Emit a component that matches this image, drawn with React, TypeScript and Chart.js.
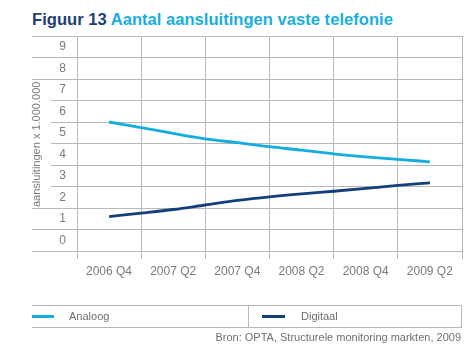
import React, { useEffect, useRef } from "react";
import { Chart, registerables } from "chart.js";

Chart.register(...registerables);

const quarters = [
  "2006 Q4", "2007 Q1", "2007 Q2", "2007 Q3", "2007 Q4", "2008 Q1",
  "2008 Q2", "2008 Q3", "2008 Q4", "2009 Q1", "2009 Q2",
];
const analoog = [6.0, 5.74, 5.47, 5.22, 5.04, 4.85, 4.69, 4.52, 4.38, 4.26, 4.15];
const digitaal = [1.6, 1.76, 1.93, 2.14, 2.35, 2.52, 2.66, 2.78, 2.91, 3.05, 3.17];
const yTicks = [0, 1, 2, 3, 4, 5, 6, 7, 8, 9];

const FONT = "'Liberation Sans', Arial, sans-serif";
const GRID = "#b8b8b8";
const TEXT = "#7a7a7a";
const CYAN = "#14ade0";
const NAVY = "#133f7c";

export default function App() {
  const ref = useRef<HTMLCanvasElement | null>(null);

  useEffect(() => {
    if (!ref.current) return;
    const chart = new Chart(ref.current, {
      type: "line",
      data: {
        datasets: [
          {
            label: "Analoog",
            data: analoog.map((v, i) => ({ x: i + 1, y: v })),
            borderColor: CYAN,
            backgroundColor: CYAN,
            borderWidth: 2.8,
            pointRadius: 0,
            cubicInterpolationMode: "monotone",
          },
          {
            label: "Digitaal",
            data: digitaal.map((v, i) => ({ x: i + 1, y: v })),
            borderColor: NAVY,
            backgroundColor: NAVY,
            borderWidth: 2.8,
            pointRadius: 0,
            cubicInterpolationMode: "monotone",
          },
        ],
      },
      options: {
        animation: false,
        responsive: false,
        devicePixelRatio: 1,
        layout: { padding: { left: 32, right: 13, top: 36, bottom: 61 } },
        plugins: { legend: { display: false }, tooltip: { enabled: false } },
        scales: {
          x: {
            type: "linear",
            min: 0,
            max: 12,
            afterFit: (s: any) => { s.height = 40; },
            grid: { color: GRID, lineWidth: 1, tickLength: 8 },
            border: { color: GRID, width: 1 },
            ticks: {
              stepSize: 2,
              autoSkip: false,
              maxRotation: 0,
              labelOffset: 32,
              padding: 5,
              color: TEXT,
              font: { family: FONT, size: 12 },
              callback: (v: any) => (quarters[v] !== undefined && v % 2 === 0 ? quarters[v] : ""),
            },
          },
          y: {
            type: "linear",
            min: 0,
            max: 10,
            afterFit: (s: any) => { s.width = 45; },
            grid: { color: GRID, lineWidth: 1, tickLength: 45 },
            border: { color: GRID, width: 1 },
            title: { display: false },
            ticks: {
              stepSize: 1,
              labelOffset: -10.5,
              padding: -34,
              color: TEXT,
              font: { family: FONT, size: 12 },
              callback: (v: any) => (yTicks.includes(v) ? String(v) : ""),
            },
          },
        },
      },
    });
    return () => chart.destroy();
  }, []);

  const legendText: React.CSSProperties = {
    position: "absolute",
    top: 305,
    height: 22,
    lineHeight: "22px",
    fontFamily: FONT,
    fontSize: 11,
    color: "#6f6f6f",
  };

  return (
    <div style={{ position: "absolute", left: 0, top: 0, width: 475, height: 352, background: "#fff" }}>
      <div
        style={{
          position: "absolute",
          left: 32,
          top: 12,
          fontFamily: FONT,
          fontWeight: "bold",
          fontSize: 16.6,
          lineHeight: "16.6px",
          whiteSpace: "nowrap",
        }}
      >
        <span style={{ color: "#1d3f74" }}>Figuur 13 </span>
        <span style={{ color: "#1aaee0" }}>Aantal aansluitingen vaste telefonie</span>
      </div>
      <canvas ref={ref} width={475} height={352} style={{ position: "absolute", left: 0, top: 0, width: 475, height: 352 }} />
      <div
        style={{
          position: "absolute",
          left: 30,
          top: 81,
          width: 21,
          height: 127,
          writingMode: "vertical-rl",
          transform: "rotate(180deg)",
          textAlign: "center",
          background: "#fff",
          fontFamily: FONT,
          fontSize: 11,
          lineHeight: "13px",
          color: TEXT,
          whiteSpace: "nowrap",
        }}
      >
        aansluitingen x 1.000.000
      </div>
      <div
        style={{
          position: "absolute",
          left: 32,
          top: 305,
          width: 429,
          height: 21,
          borderTop: `1px solid ${GRID}`,
          borderBottom: `1px solid ${GRID}`,
          borderRight: `1px solid ${GRID}`,
        }}
      />
      <div style={{ position: "absolute", left: 248, top: 305, width: 1, height: 22, background: GRID }} />
      <div style={{ position: "absolute", left: 32, top: 315, width: 22, height: 3, background: CYAN }} />
      <div style={{ ...legendText, left: 69 }}>Analoog</div>
      <div style={{ position: "absolute", left: 262, top: 315, width: 23, height: 3, background: NAVY }} />
      <div style={{ ...legendText, left: 301 }}>Digitaal</div>
      <div
        style={{
          position: "absolute",
          right: 14,
          top: 331,
          fontFamily: FONT,
          fontSize: 11,
          lineHeight: "13px",
          color: "#6f6f6f",
          whiteSpace: "nowrap",
        }}
      >
        Bron: OPTA, Structurele monitoring markten, 2009
      </div>
    </div>
  );
}
